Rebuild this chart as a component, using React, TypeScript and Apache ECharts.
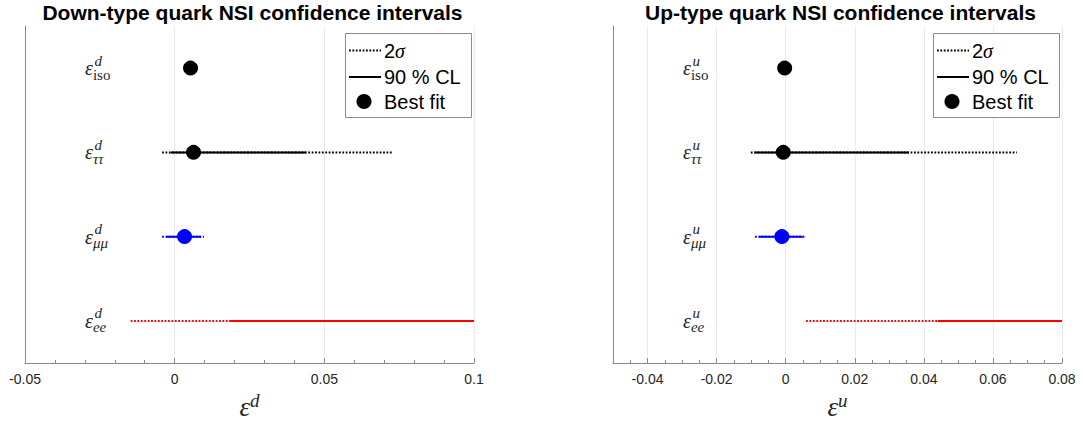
import React, { useEffect, useRef } from 'react';
import * as echarts from 'echarts';

// ---------- data ----------
const ROWS = ['ee', 'μμ', 'ττ', 'iso']; // bottom to top
const ROW_COLORS = ['#ff0000', '#0000ff', '#000000', '#000000'];

const DOWN_2S_LO = [-0.0147, -0.0042, -0.0042, null];
const DOWN_2S_HI = [0.1, 0.0098, 0.073, null];
const DOWN_90_LO = [0.0183, -0.0029, -0.0013, null];
const DOWN_90_HI = [0.1, 0.0088, 0.0439, null];
const DOWN_BEST = [null, 0.0033, 0.0063, 0.0053];

const UP_2S_LO = [0.0059, -0.0089, -0.0101, null];
const UP_2S_HI = [0.08, 0.0059, 0.0669, null];
const UP_90_LO = [0.044, -0.0076, -0.009, null];
const UP_90_HI = [0.08, 0.0049, 0.0357, null];
const UP_BEST = [null, -0.0011, -0.0007, -0.0003];

const DOWN_X_RANGE = [-0.05, 0.1];
const DOWN_X_STEP = 0.05;
const DOWN_X_MINOR = 0.01;
const UP_X_RANGE = [-0.05, 0.08];
const UP_X_STEP = 0.02;
const UP_X_MINOR = 0.005;

const TITLES = ['Down-type quark NSI confidence intervals', 'Up-type quark NSI confidence intervals'];
const SUPERSCRIPTS = ['d', 'u'];
const LEGEND_LABELS = ['2σ', '90 % CL', 'Best fit'];

// ---------- layout ----------
const W = 1083;
const H = 424;
const TOP = 26;
const BOTTOM = 363;
const AXIS_C = '#8a8a8a';
const GRID_C = '#ebebeb';
const TEXT_C = '#262626';
const SERIF = '"Liberation Serif", "DejaVu Serif", serif';
const SANS = '"Liberation Sans", Arial, sans-serif';
const DOT = [1.8, 1.6];

const PANELS = [
  { left: 25, right: 474, labelMargin: 60, range: DOWN_X_RANGE, step: DOWN_X_STEP, minor: DOWN_X_MINOR,
    lo2: DOWN_2S_LO, hi2: DOWN_2S_HI, lo9: DOWN_90_LO, hi9: DOWN_90_HI, best: DOWN_BEST },
  { left: 613, right: 1062, labelMargin: 70, range: UP_X_RANGE, step: UP_X_STEP, minor: UP_X_MINOR,
    lo2: UP_2S_LO, hi2: UP_2S_HI, lo9: UP_90_LO, hi9: UP_90_HI, best: UP_BEST },
];

const fmtTick = (step: number) => (v: number) => {
  const k = v / step;
  if (Math.abs(k - Math.round(k)) > 1e-6) return '';
  return String(+v.toFixed(4));
};

function buildOption() {
  const grid: any[] = [];
  const xAxis: any[] = [];
  const yAxis: any[] = [];
  const series: any[] = [];
  const graphic: any[] = [];

  PANELS.forEach((p, i) => {
    const sup = SUPERSCRIPTS[i];
    grid.push({ left: p.left, top: TOP, width: p.right - p.left, height: BOTTOM - TOP, outerBoundsMode: 'none', containLabel: false });

    const main: any = {
      type: 'value', gridIndex: i, position: 'bottom', min: p.range[0], max: p.range[1],
      axisLine: { show: true, onZero: false, lineStyle: { color: AXIS_C, width: 1 } },
      axisTick: { show: true, inside: true, length: 5, lineStyle: { color: AXIS_C } },
      axisLabel: { show: true, margin: 9, color: TEXT_C, fontFamily: SANS, fontSize: 14, formatter: fmtTick(p.step) },
      splitLine: { show: true, lineStyle: { color: GRID_C, width: 1 } },
      name: `{e|ε}{s|${sup}}`, nameLocation: 'middle', nameGap: 27,
      nameTextStyle: {
        rich: {
          e: { fontFamily: SERIF, fontStyle: 'italic', fontSize: 27, lineHeight: 30, verticalAlign: 'bottom', color: TEXT_C },
          s: { fontFamily: SERIF, fontStyle: 'italic', fontSize: 19, lineHeight: 30, verticalAlign: 'top', color: TEXT_C },
        },
      },
    };
    if (i === 0) main.interval = p.step;
    else { main.splitNumber = 6; main.minInterval = p.step; main.maxInterval = p.step; }
    xAxis.push(main);
    xAxis.push({
      type: 'value', gridIndex: i, position: 'bottom', min: p.range[0], max: p.range[1], interval: p.minor,
      axisLine: { show: false, onZero: false },
      axisTick: { show: true, inside: true, length: 3, lineStyle: { color: AXIS_C } },
      axisLabel: { show: false }, splitLine: { show: false },
    });

    yAxis.push({
      type: 'category', gridIndex: i, position: 'left', data: ROWS,
      axisLine: { show: true, onZero: false, lineStyle: { color: AXIS_C, width: 1 } },
      axisTick: { show: false }, splitLine: { show: false },
      axisLabel: {
        show: true, inside: true, margin: p.labelMargin, align: 'left',
        formatter: (v: string) => (v === 'iso' ? `{e|ε}{r|iso}` : `{e|ε}{s|${v}}`),
        rich: {
          e: { fontFamily: SERIF, fontStyle: 'italic', fontSize: 20, lineHeight: 28, verticalAlign: 'middle', color: TEXT_C },
          s: { fontFamily: SERIF, fontStyle: 'italic', fontSize: 15, lineHeight: 15, verticalAlign: 'bottom', color: TEXT_C },
          r: { fontFamily: SERIF, fontStyle: 'normal', fontSize: 15, lineHeight: 15, verticalAlign: 'bottom', color: TEXT_C },
        },
      },
    });
    yAxis.push({
      type: 'category', gridIndex: i, position: 'left', data: ROWS,
      axisLine: { show: false, onZero: false }, axisTick: { show: false }, splitLine: { show: false },
      axisLabel: {
        show: true, inside: true, margin: p.labelMargin + 9.5, align: 'left',
        formatter: () => `{p|${sup}}`,
        rich: { p: { fontFamily: SERIF, fontStyle: 'italic', fontSize: 15, padding: [0, 0, 15, 0], color: TEXT_C } },
      },
    });

    const xi = i * 2;
    const yi = i * 2;
    ROWS.forEach((r, k) => {
      const c = ROW_COLORS[k];
      if (p.lo2[k] != null) {
        series.push({
          type: 'line', xAxisIndex: xi, yAxisIndex: yi, symbol: 'none', silent: true, z: 2,
          data: [[p.lo2[k], r], [p.hi2[k], r]],
          lineStyle: { color: c, width: 2, type: DOT, cap: 'butt' },
        });
      }
      if (p.lo9[k] != null) {
        series.push({
          type: 'line', xAxisIndex: xi, yAxisIndex: yi, symbol: 'none', silent: true, z: 3,
          data: [[p.lo9[k], r], [p.hi9[k], r]],
          lineStyle: { color: c, width: 2, type: 'solid' },
        });
      }
      if (p.best[k] != null) {
        series.push({
          type: 'scatter', xAxisIndex: xi, yAxisIndex: yi, symbol: 'circle', symbolSize: 15, silent: true, z: 4,
          data: [[p.best[k], r]], itemStyle: { color: c, opacity: 1 },
        });
      }
    });

    // title
    graphic.push({
      type: 'text', x: (p.left + p.right) / 2 + 3, y: 12, z: 100,
      style: { text: TITLES[i], font: `bold 21px ${SANS}`, fill: '#000', align: 'center', verticalAlign: 'middle', textAlign: 'center', textVerticalAlign: 'middle' },
    });

    // legend
    const lx = p.left + 320;
    const ly = 33;
    const rowsY = [ly + 17.5, ly + 44, ly + 68.5];
    graphic.push({ type: 'rect', z: 100, shape: { x: lx + 0.5, y: ly + 0.5, width: 126, height: 84 }, style: { fill: '#fff', stroke: '#8c8c8c', lineWidth: 1 } });
    graphic.push({ type: 'line', z: 101, shape: { x1: lx + 4, y1: rowsY[0], x2: lx + 36, y2: rowsY[0] }, style: { stroke: '#000', lineWidth: 2, lineDash: DOT } });
    graphic.push({ type: 'line', z: 101, shape: { x1: lx + 4, y1: rowsY[1], x2: lx + 36, y2: rowsY[1] }, style: { stroke: '#000', lineWidth: 2 } });
    graphic.push({ type: 'circle', z: 101, shape: { cx: lx + 19, cy: rowsY[2], r: 7.5 }, style: { fill: '#000' } });
    LEGEND_LABELS.forEach((lab, k) => {
      const txt = lab.replace(/σ/g, '{g|σ}').replace(/^([^{]+)/, '{n|$1}');
      graphic.push({
        type: 'text', z: 101, x: lx + 39, y: rowsY[k],
        style: {
          text: txt, verticalAlign: 'middle', textVerticalAlign: 'middle', align: 'left', textAlign: 'left',
          rich: {
            n: { fontFamily: SANS, fontSize: 20, fill: '#000', color: '#000' },
            g: { fontFamily: SERIF, fontStyle: 'italic', fontSize: 20, fill: '#000', color: '#000' },
          },
        },
      });
    });
  });

  return { animation: false, backgroundColor: '#fff', grid, xAxis, yAxis, series, graphic };
}

export default function App() {
  const ref = useRef<HTMLDivElement>(null);
  useEffect(() => {
    const chart = echarts.init(ref.current!, null, { renderer: 'svg' });
    chart.setOption(buildOption() as any);
    return () => chart.dispose();
  }, []);
  return <div ref={ref} style={{ position: 'fixed', left: 0, top: 0, width: W, height: H, background: '#fff' }} />;
}
